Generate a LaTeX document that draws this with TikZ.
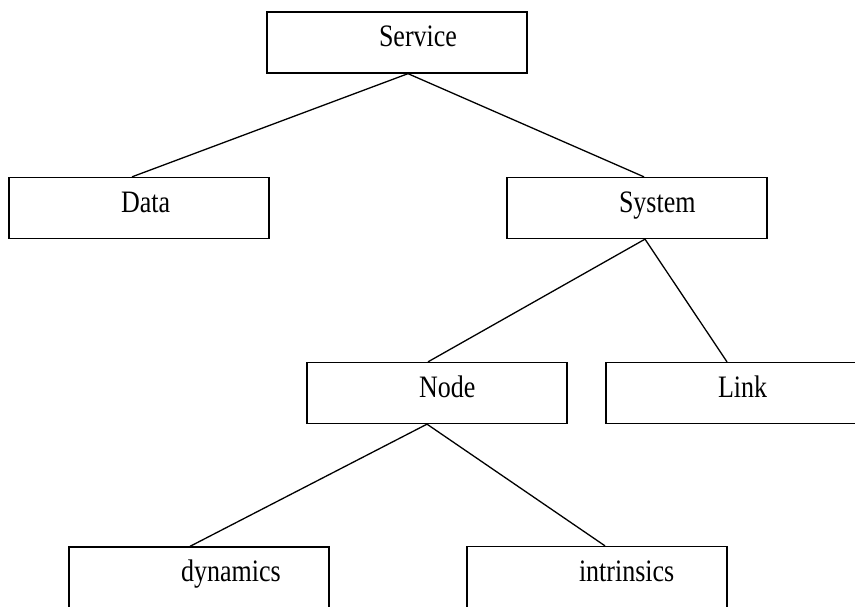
\documentclass[tikz,border=0pt]{standalone}
\usepackage{fontspec}
\setmainfont{Liberation Serif}
\newcommand{\boxlabel}[1]{\makebox[36pt][l]{\scalebox{1}[1.2]{#1}}}

\begin{document}
\begin{tikzpicture}[x=1pt, y=-1pt, line width=1.3pt,
		box/.style={draw, minimum width=260pt, minimum height=61pt,
			font=\fontsize{26pt}{30pt}\selectfont, text height=21pt, text depth=12.4pt}]
		\useasboundingbox (0,0) rectangle (855,606);
		\clip (0,0) rectangle (855,606);
		\node[box] (service) at (397,42.5) {\boxlabel{Service}};
		\node[box] (data) at (139,208) {\boxlabel{Data}};
		\node[box] (system) at (637,208) {\boxlabel{System}};
		\node[box] (node) at (437,393) {\boxlabel{Node}};
		\node[box] (link) at (736,393) {\boxlabel{Link}};
		\node[box] (dyn) at (199,577.5) {\boxlabel{dynamics}};
		\node[box] (intr) at (597,577) {\boxlabel{intrinsics}};
		\draw ([xshift=11pt]service.south) -- ([xshift=-7pt]data.north);
		\draw ([xshift=11pt]service.south) -- ([xshift=7pt]system.north);
		\draw ([xshift=8pt]system.south) -- ([xshift=-9pt]node.north);
		\draw ([xshift=8pt]system.south) -- ([xshift=-9pt]link.north);
		\draw ([xshift=-10pt]node.south) -- ([xshift=-9pt]dyn.north);
		\draw ([xshift=-10pt]node.south) -- ([xshift=8pt]intr.north);
	\end{tikzpicture}
\end{document}
